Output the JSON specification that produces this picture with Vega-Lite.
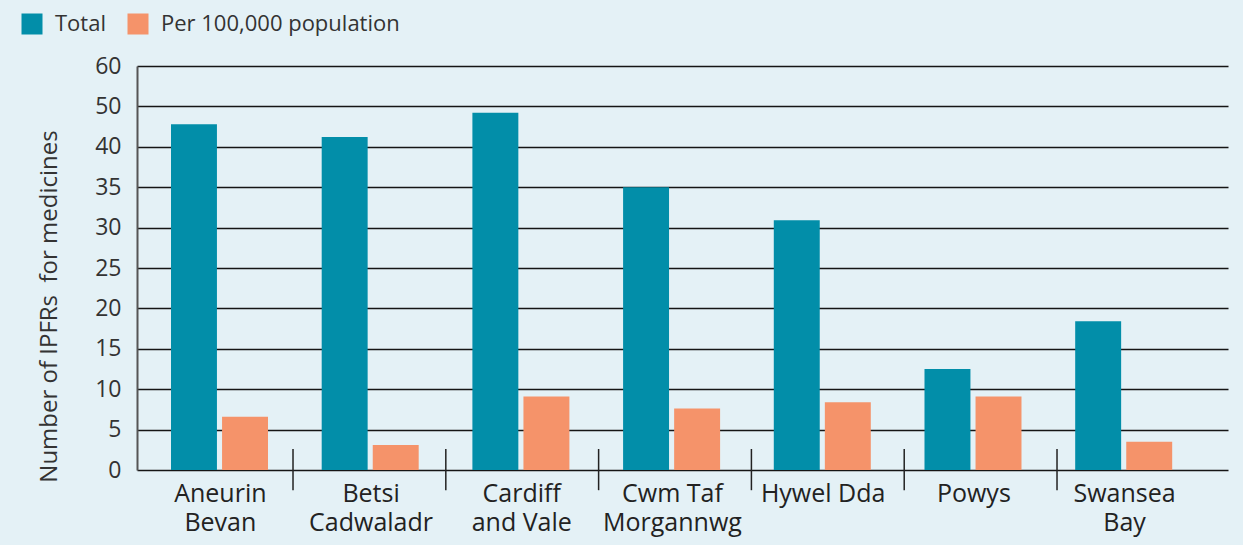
{
  "$schema": "https://vega.github.io/schema/vega-lite/v6.json",
  "width": 1091,
  "height": 404,
  "autosize": "none",
  "padding": {"left": 137, "top": 66, "right": 15, "bottom": 75},
  "background": "#e4f1f6",
  "config": {"view": {"stroke": null}, "font": "Open Sans"},
  "data": {"values": [
    {"region": "Aneurin Bevan", "measure": "Total", "value": 42.8},
    {"region": "Aneurin Bevan", "measure": "Per 100,000 population", "value": 6.6},
    {"region": "Betsi Cadwaladr", "measure": "Total", "value": 41.2},
    {"region": "Betsi Cadwaladr", "measure": "Per 100,000 population", "value": 3.1},
    {"region": "Cardiff and Vale", "measure": "Total", "value": 44.2},
    {"region": "Cardiff and Vale", "measure": "Per 100,000 population", "value": 9.1},
    {"region": "Cwm Taf Morgannwg", "measure": "Total", "value": 35.0},
    {"region": "Cwm Taf Morgannwg", "measure": "Per 100,000 population", "value": 7.6},
    {"region": "Hywel Dda", "measure": "Total", "value": 30.9},
    {"region": "Hywel Dda", "measure": "Per 100,000 population", "value": 8.4},
    {"region": "Powys", "measure": "Total", "value": 12.5},
    {"region": "Powys", "measure": "Per 100,000 population", "value": 9.1},
    {"region": "Swansea Bay", "measure": "Total", "value": 18.4},
    {"region": "Swansea Bay", "measure": "Per 100,000 population", "value": 3.5}
  ]},
  "layer": [
    {
      "mark": {"type": "bar"},
      "encoding": {
        "x": {
          "field": "region", "type": "nominal", "sort": null,
          "scale": {"paddingInner": 0, "paddingOuter": 0.1198, "align": 0.083},
          "axis": {
            "title": null, "labelAngle": 0, "ticks": false, "domain": false, "grid": false,
            "labelFontSize": 25, "labelColor": "#222", "labelPadding": 11, "labelLineHeight": 29,
            "labelBaseline": "top", "labelOffset": 5,
            "labelExpr": "datum.value == 'Aneurin Bevan' ? ['Aneurin', 'Bevan'] : datum.value == 'Betsi Cadwaladr' ? ['Betsi', 'Cadwaladr'] : datum.value == 'Cardiff and Vale' ? ['Cardiff', 'and Vale'] : datum.value == 'Cwm Taf Morgannwg' ? ['Cwm Taf', 'Morgannwg'] : datum.value == 'Swansea Bay' ? ['Swansea', 'Bay'] : datum.label"
          }
        },
        "xOffset": {
          "field": "measure", "type": "nominal", "sort": ["Total", "Per 100,000 population"],
          "scale": {"range": [31, 128], "paddingInner": 0.1, "paddingOuter": 0}
        },
        "y": {
          "field": "value", "type": "quantitative",
          "scale": {"domain": [0, 50], "nice": false, "zero": true},
          "axis": {
            "values": [0, 5, 10, 15, 20, 25, 30, 35, 40, 45, 50],
            "labelExpr": "datum.value == 50 ? '60' : datum.value == 45 ? '50' : datum.label",
            "grid": true, "gridColor": "#151515", "gridWidth": 1.6,
            "domain": true, "domainColor": "#555", "domainWidth": 2,
            "ticks": false, "tickSize": 0, "labelPadding": 16,
            "labelFontSize": 23, "labelColor": "#333",
            "title": "Number of IPFRs\u00a0 for medicines",
            "titleFontSize": 24, "titleFontWeight": "normal", "titleColor": "#333",
            "titleX": -81, "titleY": 240, "titleAngle": 270, "titleAlign": "center", "titleBaseline": "alphabetic"
          }
        },
        "color": {
          "field": "measure", "type": "nominal", "sort": ["Total", "Per 100,000 population"],
          "scale": {"domain": ["Total", "Per 100,000 population"], "range": ["#028ea9", "#f5936a"]},
          "legend": {
            "orient": "none", "legendX": -116, "legendY": -53, "direction": "horizontal",
            "title": null, "symbolType": "square", "symbolSize": 441, "symbolStrokeWidth": 0,
            "symbolOpacity": 1, "labelFontSize": 22, "labelColor": "#333", "labelOffset": 12,
            "labelLimit": 0, "columnPadding": 21, "padding": 0
          }
        }
      }
    },
    {
      "transform": [{"filter": "datum.measure == 'Total' && datum.region != 'Aneurin Bevan'"}],
      "mark": {"type": "rule", "color": "#222", "strokeWidth": 1.5},
      "encoding": {
        "x": {
          "field": "region", "type": "nominal", "sort": null, "bandPosition": 0,
          "scale": {
            "domain": ["Aneurin Bevan", "Betsi Cadwaladr", "Cardiff and Vale", "Cwm Taf Morgannwg", "Hywel Dda", "Powys", "Swansea Bay"],
            "paddingInner": 0, "paddingOuter": 0.07, "align": 0.15
          },
          "axis": null
        },
        "y": {"datum": 2.6, "type": "quantitative"},
        "y2": {"datum": -2.5}
      }
    }
  ],
  "resolve": {"scale": {"x": "independent"}}
}
